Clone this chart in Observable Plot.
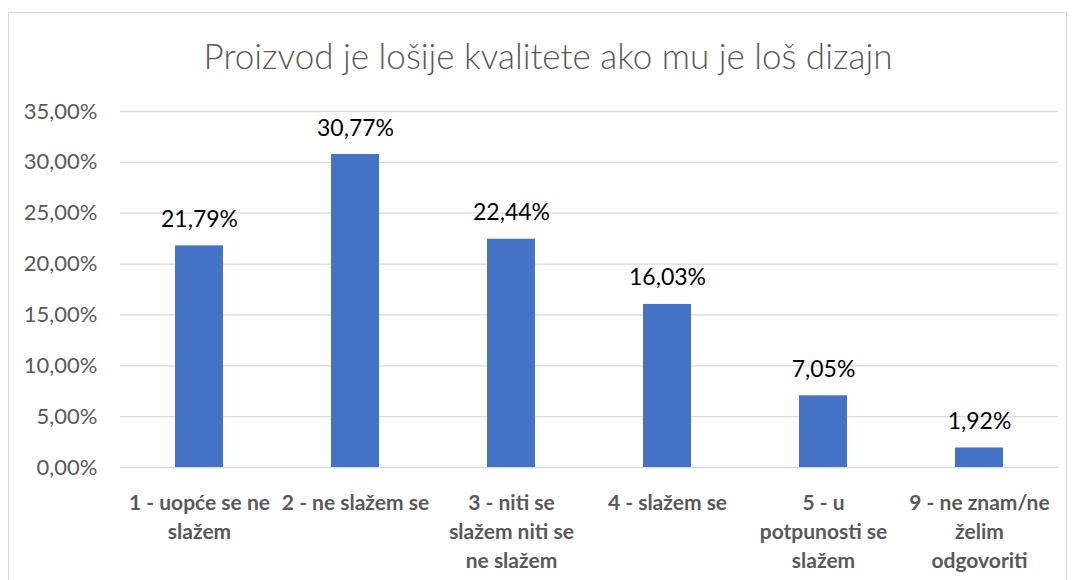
<!DOCTYPE html>
<html><head><meta charset="utf-8">
<script src="https://cdn.jsdelivr.net/npm/d3@7"></script>
<script src="https://cdn.jsdelivr.net/npm/@observablehq/plot@0.6"></script>
<style>
html,body{margin:0;padding:0;background:#fff;}
body{overflow:hidden;width:1076px;height:580px;}
#wrap{position:relative;width:1076px;height:580px;}
#frame{position:absolute;left:8px;top:12px;width:1059px;height:600px;border:1px solid #d9d9d9;box-sizing:border-box;}
#title{position:absolute;left:0;width:1096px;top:34px;text-align:center;font-family:Lato,sans-serif;font-weight:300;font-size:35px;line-height:42px;color:#595959;white-space:nowrap;}
#chart{position:absolute;left:0;top:0;}
</style>
</head><body>
<div id="wrap"><div id="frame"></div><div id="chart"></div><div id="title">Proizvod je lošije kvalitete ako mu je loš dizajn</div></div>
<script>
const categories = ["1 - uopće se ne\nslažem", "2 - ne slažem se", "3 - niti se\nslažem niti se\nne slažem", "4 - slažem se", "5 - u\npotpunosti se\nslažem", "9 - ne znam/ne\nželim\nodgovoriti"];
const values = [21.79, 30.77, 22.44, 16.03, 7.05, 1.92];
const yTicks = [0, 5, 10, 15, 20, 25, 30, 35];

const data = categories.map((c, i) => ({cat: c, val: values[i]}));
const fmt = d => d.toFixed(2).replace(".", ",") + "%";

const chart = Plot.plot({
  width: 1076,
  height: 580,
  marginLeft: 120,
  marginRight: 18,
  marginTop: 111,
  marginBottom: 113,
  style: {fontFamily: "Lato, sans-serif", background: "transparent"},
  x: {domain: categories, paddingInner: 0.69, paddingOuter: 0.345, axis: null},
  y: {domain: [0, 35], axis: null},
  marks: [
    Plot.gridY(yTicks, {stroke: "#d9d9d9", strokeOpacity: 1, strokeWidth: 1.3}),
    Plot.barY(data, {x: "cat", y: "val", fill: "#4472C4"}),
    Plot.text(data, {x: "cat", y: "val", text: d => fmt(d.val), lineAnchor: "bottom", dy: -19, fontSize: 23, fill: "#000"}),
    Plot.text(data, {x: "cat", y: () => 0, text: "cat", lineAnchor: "top", dy: 22, fontSize: 21, fontWeight: "bold", lineHeight: 1.38, fill: "#595959"}),
    Plot.axisY(yTicks, {tickFormat: fmt, tickSize: 0, tickPadding: 23, fontSize: 22, fill: "#595959", label: null})
  ]
});
document.getElementById("chart").appendChild(chart);
</script>
</body></html>
